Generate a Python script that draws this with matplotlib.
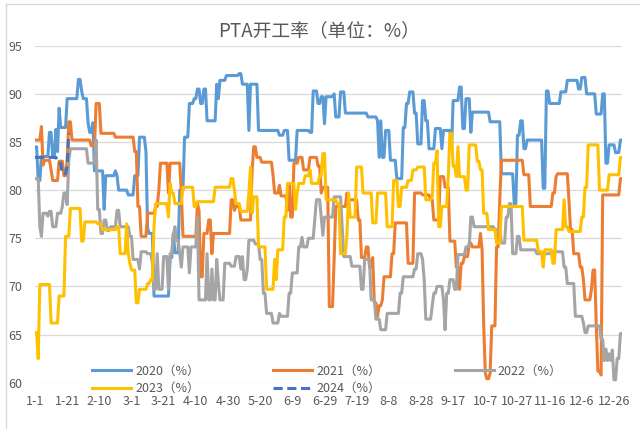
import numpy as np
import pandas as pd
import matplotlib
matplotlib.use("Agg")
import matplotlib.pyplot as plt
from matplotlib.lines import Line2D

plt.rcParams['font.family'] = ['Noto Sans CJK SC', 'DejaVu Sans']

# (start day, level) readings, level held until the next start day
pta_2020 = [(0, 84.5), (2, 81.0), (4, 83.5), (9, 86.0), (11, 83.5), (13, 86.3), (14, 84.0), (15, 88.5),
            (16, 86.5), (20, 89.5), (27, 91.5), (29, 90.3), (30, 89.5), (33, 87.0), (34, 86.0), (36, 87.0),
            (37, 82.0), (43, 78.0), (44, 81.5), (50, 82.0), (51, 81.5), (52, 80.0), (58, 79.5), (62, 81.5),
            (65, 85.5), (69, 84.0), (70, 76.0), (71, 75.5), (74, 69.0), (84, 73.0), (86, 75.5), (87, 73.5),
            (90, 80.0), (93, 85.5), (96, 89.0), (99, 89.5), (101, 90.5), (103, 89.0), (105, 90.5), (107, 87.2),
            (113, 91.0), (114, 89.5), (115, 91.4), (119, 91.9), (127, 92.1), (129, 91.0), (133, 86.2),
            (134, 91.0), (139, 86.2), (152, 85.7), (155, 86.2), (158, 83.1), (163, 86.2), (171, 86.0),
            (173, 90.3), (176, 89.0), (178, 89.7), (180, 86.9), (181, 89.7), (186, 90.0), (187, 87.6),
            (190, 90.2), (193, 88.0), (207, 87.6), (213, 87.2), (214, 83.4), (215, 87.2), (216, 83.4),
            (218, 86.2), (221, 83.1), (225, 81.2), (229, 86.5), (231, 89.0), (233, 90.2), (236, 88.0),
            (238, 84.8), (241, 89.3), (243, 87.2), (245, 84.3), (249, 86.4), (253, 84.3), (254, 86.2),
            (259, 84.3), (260, 89.3), (264, 90.7), (266, 86.4), (268, 89.5), (271, 86.0), (272, 88.1),
            (283, 87.1), (290, 81.7), (298, 78.6), (300, 85.7), (302, 87.2), (304, 84.3), (306, 85.2),
            (316, 80.2), (318, 90.3), (320, 89.0), (327, 90.2), (331, 91.4), (338, 90.5), (340, 91.7),
            (343, 90.0), (349, 87.9), (353, 90.0), (355, 82.8), (357, 84.7), (361, 83.9), (364, 85.2)]

pta_2021 = [(0, 85.2), (4, 86.6), (5, 82.6), (6, 83.1), (10, 82.1), (11, 81.0), (15, 83.0), (18, 81.5),
            (20, 83.1), (21, 87.1), (23, 85.2), (35, 84.6), (38, 89.0), (41, 85.9), (50, 85.5), (62, 84.0),
            (64, 78.3), (66, 75.2), (70, 77.6), (75, 78.3), (77, 80.0), (78, 82.8), (83, 79.7), (84, 82.8),
            (91, 79.7), (92, 75.2), (101, 78.6), (102, 77.9), (103, 71.0), (105, 75.5), (108, 76.9),
            (110, 73.4), (111, 75.5), (122, 79.0), (124, 77.9), (125, 78.3), (128, 76.9), (135, 82.0),
            (136, 84.5), (138, 83.4), (141, 82.9), (148, 81.6), (149, 79.7), (152, 80.5), (153, 79.4),
            (157, 77.9), (158, 80.5), (159, 77.2), (161, 82.8), (164, 83.4), (167, 82.1), (171, 83.4),
            (176, 82.5), (178, 79.7), (179, 80.3), (183, 67.9), (186, 72.8), (187, 78.3), (194, 79.7),
            (195, 79.0), (201, 76.9), (203, 73.0), (206, 74.1), (208, 72.0), (210, 73.0), (211, 68.3),
            (213, 66.9), (214, 68.0), (216, 68.6), (217, 71.0), (222, 73.4), (224, 76.6), (232, 72.4),
            (236, 79.7), (241, 79.5), (246, 79.0), (248, 76.9), (252, 81.4), (255, 80.3), (258, 74.7),
            (262, 72.0), (264, 69.7), (265, 72.4), (267, 73.1), (270, 74.5), (272, 74.1), (277, 75.5),
            (278, 73.8), (279, 66.0), (280, 61.0), (281, 60.4), (283, 61.0), (284, 65.9), (287, 74.1),
            (289, 79.0), (290, 83.1), (304, 81.6), (308, 78.3), (322, 79.7), (324, 81.4), (325, 81.7),
            (332, 79.0), (333, 75.9), (335, 73.4), (339, 72.0), (341, 70.7), (342, 68.6), (346, 69.7),
            (347, 71.7), (349, 66.0), (350, 61.2), (352, 60.8), (353, 79.5), (364, 81.2)]

pta_2022 = [(0, 81.2), (3, 76.2), (4, 75.2), (5, 77.6), (8, 77.3), (9, 77.8), (11, 76.2), (14, 77.6),
            (17, 78.3), (18, 79.7), (20, 78.5), (21, 83.1), (22, 84.3), (33, 82.8), (38, 85.2), (39, 78.0),
            (41, 75.5), (43, 76.9), (45, 75.8), (47, 76.2), (51, 77.9), (53, 76.2), (59, 75.2), (61, 72.8),
            (65, 71.8), (66, 73.6), (70, 73.4), (73, 72.4), (74, 69.7), (76, 73.4), (77, 69.7), (80, 73.1),
            (83, 69.7), (84, 73.4), (86, 75.3), (87, 76.2), (88, 74.8), (90, 73.4), (91, 72.0), (92, 74.1),
            (96, 71.4), (97, 74.1), (101, 77.2), (102, 68.6), (107, 73.4), (108, 68.6), (110, 71.8),
            (111, 68.6), (113, 72.8), (114, 70.4), (115, 68.6), (118, 72.4), (122, 72.1), (125, 73.1),
            (128, 71.8), (129, 73.1), (130, 70.7), (132, 71.8), (133, 74.8), (137, 74.4), (140, 72.8),
            (142, 69.3), (144, 67.2), (148, 66.2), (152, 67.2), (153, 66.9), (158, 69.3), (160, 71.4),
            (164, 74.1), (166, 75.1), (167, 74.1), (170, 75.0), (174, 77.0), (175, 79.0), (178, 77.2),
            (179, 75.3), (180, 77.2), (186, 79.3), (191, 76.2), (192, 73.1), (197, 72.1), (203, 69.7),
            (205, 72.8), (209, 68.6), (212, 66.6), (215, 65.5), (219, 67.2), (227, 69.3), (229, 71.0),
            (236, 71.8), (238, 73.4), (241, 72.8), (242, 70.7), (243, 66.6), (247, 68.0), (248, 69.3),
            (250, 70.0), (254, 68.6), (255, 65.5), (256, 69.3), (258, 70.7), (261, 69.7), (263, 73.3),
            (268, 74.1), (271, 77.2), (273, 76.2), (286, 75.9), (290, 74.5), (293, 77.2), (295, 78.6),
            (297, 73.4), (300, 75.2), (302, 73.8), (312, 73.4), (321, 73.6), (329, 72.0), (331, 70.3),
            (336, 66.9), (341, 66.2), (342, 65.2), (344, 65.9), (352, 64.5), (354, 62.3), (355, 63.5),
            (356, 62.3), (357, 63.0), (358, 62.3), (359, 63.4), (360, 60.3), (362, 62.5), (364, 65.1)]

pta_2023 = [(0, 65.2), (2, 62.5), (3, 70.2), (10, 66.2), (15, 69.0), (19, 75.2), (22, 78.1), (29, 74.7),
            (31, 76.7), (39, 76.5), (42, 75.9), (51, 76.2), (53, 73.4), (57, 76.5), (58, 73.4), (59, 72.4),
            (60, 71.7), (63, 68.3), (65, 69.7), (70, 70.3), (72, 70.7), (74, 76.2), (75, 78.6), (83, 77.2),
            (84, 80.7), (85, 79.7), (87, 78.6), (92, 80.3), (99, 78.3), (101, 78.8), (112, 80.3), (122, 81.2),
            (124, 80.0), (125, 78.6), (128, 77.8), (133, 79.7), (134, 82.4), (135, 77.6), (136, 79.3),
            (139, 74.1), (144, 69.7), (149, 72.8), (150, 70.7), (151, 73.8), (155, 77.2), (157, 80.7),
            (162, 78.0), (163, 79.7), (164, 80.7), (168, 81.5), (171, 82.1), (172, 80.7), (177, 81.5),
            (179, 83.8), (181, 79.0), (188, 78.6), (190, 73.4), (194, 75.5), (195, 79.7), (196, 77.2),
            (200, 82.4), (204, 79.7), (210, 76.6), (213, 79.7), (219, 76.2), (223, 81.0), (226, 78.3),
            (228, 80.3), (232, 81.0), (235, 82.1), (238, 82.4), (243, 79.0), (247, 79.3), (248, 82.8),
            (250, 84.1), (251, 76.2), (253, 78.3), (257, 81.5), (258, 85.9), (260, 82.5), (262, 81.4),
            (263, 84.5), (264, 81.4), (268, 80.0), (270, 84.7), (275, 83.0), (277, 82.1), (279, 77.6),
            (282, 75.9), (287, 74.5), (290, 78.3), (304, 74.8), (313, 73.6), (316, 72.0), (317, 73.8),
            (322, 72.4), (324, 75.9), (329, 79.0), (330, 76.2), (332, 75.7), (340, 77.2), (342, 80.3),
            (344, 84.7), (351, 80.0), (357, 81.6), (364, 83.4)]

pta_2024 = [(0, 83.4), (14, 83.1), (15, 82.8), (17, 81.7), (20, 82.5), (21, 85.9)]

n_days = 366
labels = ['2020（%）', '2021（%）', '2022（%）', '2023（%）', '2024（%）']
colors = ['#5B9BD5', '#ED7D31', '#A5A5A5', '#FFC000', '#4472C4']
styles = ['-', '-', '-', '-', (0, (3, 1.5))]


def expand(pairs, last):
    starts = np.array([p[0] for p in pairs])
    levels = np.array([p[1] for p in pairs])
    days = np.arange(last + 1)
    idx = np.searchsorted(starts, days, side='right') - 1
    return days, levels[idx]


dates = pd.date_range('2020-01-01', periods=n_days)
tick_pos = np.arange(0, n_days, 20)
tick_lab = [f"{dates[i].month}-{dates[i].day}" for i in tick_pos]

fig = plt.figure(figsize=(6.4, 4.29), dpi=100)
ax = fig.add_axes([35 / 640, 1 - 382.7 / 429, 587 / 640, 337 / 429])

series = [pta_2020, pta_2021, pta_2022, pta_2023, pta_2024]
handles = []
for i, s in enumerate(series):
    last = n_days - 1 if i < 4 else s[-1][0]
    x, y = expand(s, last)
    h, = ax.plot(x, y, color=colors[i], lw=2.2, ls=styles[i], label=labels[i],
                 solid_joinstyle='round', zorder=3 + i)
    handles.append(h)

ax.set_xlim(0, n_days - 1)
ax.set_ylim(60, 95)
ax.set_yticks(np.arange(60, 96, 5))
ax.set_xticks(tick_pos)
ax.set_xticklabels(tick_lab)
ax.grid(axis='y', color='#D9D9D9', lw=0.9)
ax.set_axisbelow(True)
for sp in ax.spines.values():
    sp.set_visible(False)
ax.tick_params(length=0, colors='#595959', labelsize=9)
ax.tick_params(axis='y', pad=9)
ax.tick_params(axis='x', pad=9)

fig.text(319 / 640, 1 - 31 / 429, 'PTA开工率（单位：%）', ha='center', va='center',
         fontsize=13.5, color='#595959')

# legend in two rows, as in the reference (rows sit either side of the 60 line)
rows = [[0, 1, 2], [3, 4]]
row_y = [371, 388.5]
for r, yy in zip(rows, row_y):
    leg = fig.legend([handles[i] for i in r], [labels[i] for i in r], ncol=3,
                     loc='center left', bbox_to_anchor=(92 / 640, 1 - yy / 429), frameon=False,
                     fontsize=9, handlelength=3.1, handletextpad=0.35, columnspacing=5.9,
                     borderpad=0, borderaxespad=0)
    for t in leg.get_texts():
        t.set_color('#595959')

# chart area border (left and top visible)
fig.add_artist(Line2D([6 / 640, 6 / 640], [0, 1 - 4 / 429], color='#D9D9D9', lw=1))
fig.add_artist(Line2D([6 / 640, 1], [1 - 4 / 429, 1 - 4 / 429], color='#D9D9D9', lw=1))

fig.savefig('out.png', dpi=100)
